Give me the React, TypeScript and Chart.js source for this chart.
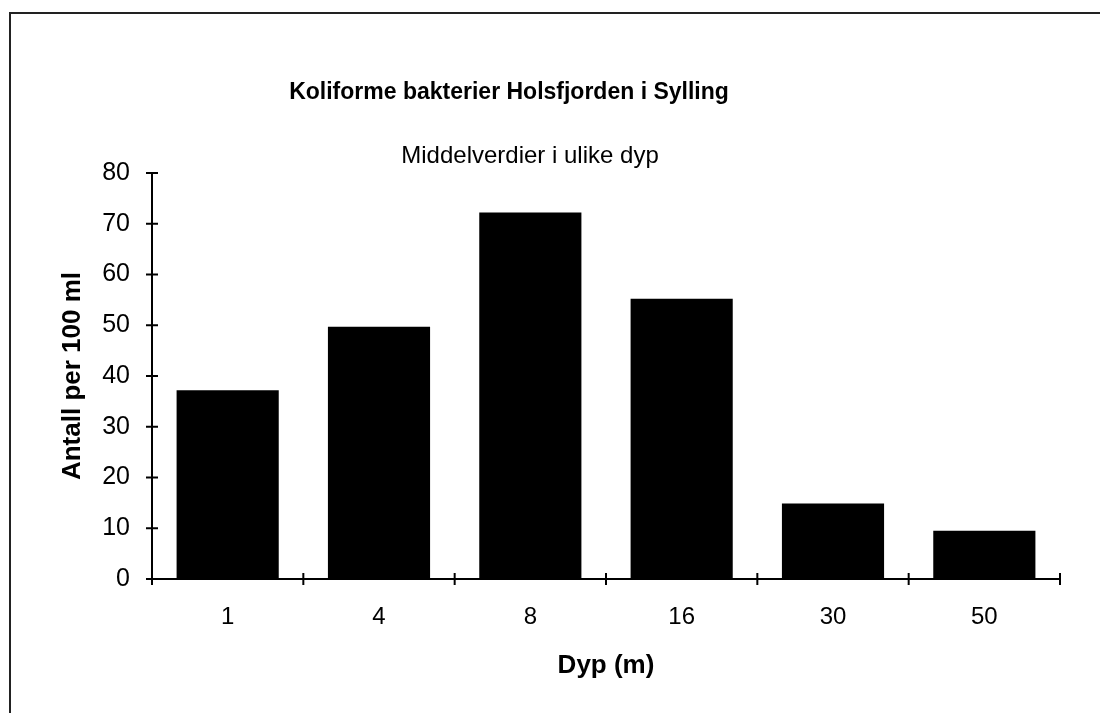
import React, { useEffect, useRef } from "react";
import { Chart, registerables } from "chart.js";

Chart.register(...registerables);

const depths: string[] = ["1", "4", "8", "16", "30", "50"];
const meanValues: number[] = [37.2, 49.7, 72.2, 55.2, 14.9, 9.5];
const yTickValues: number[] = [0, 10, 20, 30, 40, 50, 60, 70, 80];
const titleText = "Koliforme bakterier Holsfjorden i Sylling";
const subtitleText = "Middelverdier i ulike dyp";
const yAxisTitle = "Antall per 100 ml";
const xAxisTitle = "Dyp (m)";

const FONT = '"Liberation Sans", Arial, sans-serif';

const crossTicksPlugin = {
  id: "crossTicks",
  afterDraw(chart: any) {
    const { ctx, scales } = chart;
    const x = scales.x;
    const y = scales.y;
    const half = 6;
    ctx.save();
    ctx.strokeStyle = "#000";
    ctx.lineWidth = 2;
    // y ticks crossing the axis
    yTickValues.forEach((v) => {
      const py = y.getPixelForValue(v);
      ctx.beginPath();
      ctx.moveTo(x.left - half, py);
      ctx.lineTo(x.left + half, py);
      ctx.stroke();
    });
    // x ticks on category boundaries
    for (let i = 0; i <= depths.length; i++) {
      const px = x.getPixelForValue(i - 0.5);
      ctx.beginPath();
      ctx.moveTo(px, y.bottom - half);
      ctx.lineTo(px, y.bottom + half);
      ctx.stroke();
    }
    ctx.restore();
  },
};

const headingPlugin = {
  id: "heading",
  afterDraw(chart: any) {
    const { ctx } = chart;
    ctx.save();
    ctx.fillStyle = "#000";
    ctx.textAlign = "center";
    ctx.textBaseline = "alphabetic";
    ctx.font = `bold 23px ${FONT}`;
    ctx.fillText(titleText, 509, 99);
    ctx.font = `24px ${FONT}`;
    ctx.fillText(subtitleText, 530, 163);
    ctx.restore();
  },
};

export default function App() {
  const canvasRef = useRef<HTMLCanvasElement | null>(null);

  useEffect(() => {
    if (!canvasRef.current) return;
    const chart = new Chart(canvasRef.current, {
      type: "bar",
      data: {
        labels: depths,
        datasets: [
          {
            data: meanValues,
            backgroundColor: "#000",
            borderWidth: 0,
            categoryPercentage: 1,
            barPercentage: 0.675,
          },
        ],
      },
      options: {
        animation: false,
        responsive: false,
        maintainAspectRatio: false,
        layout: { padding: { top: 173, right: 40, bottom: 0, left: 0 } },
        plugins: {
          legend: { display: false },
          tooltip: { enabled: false },
          title: { display: false },
        },
        scales: {
          x: {
            type: "category",
            offset: true,
            grid: { display: false, drawTicks: false },
            border: { display: true, color: "#000", width: 2 },
            ticks: {
              color: "#000",
              padding: 24,
              font: { family: FONT, size: 24 },
              maxRotation: 0,
            },
            title: {
              display: true,
              text: xAxisTitle,
              color: "#000",
              font: { family: FONT, size: 26, weight: "bold" },
              padding: { top: 0, bottom: 32 },
            },
            afterFit(scale: any) {
              scale.height = 134;
            },
          },
          y: {
            min: 0,
            max: 80,
            grid: { display: false, drawTicks: false },
            border: { display: true, color: "#000", width: 2 },
            ticks: {
              stepSize: 10,
              color: "#000",
              padding: 22,
              font: { family: FONT, size: 25 },
            },
            title: {
              display: true,
              text: yAxisTitle,
              color: "#000",
              font: { family: FONT, size: 26, weight: "bold" },
              padding: { top: 57, bottom: 0 },
            },
            afterFit(scale: any) {
              scale.width = 152;
            },
          },
        },
      },
      plugins: [crossTicksPlugin, headingPlugin],
    });
    return () => chart.destroy();
  }, []);

  return (
    <div style={{ position: "fixed", left: 0, top: 0, width: 1100, height: 713, background: "#fff" }}>
      <div
        style={{
          position: "absolute",
          left: 9,
          top: 12,
          width: 1100,
          height: 713,
          borderLeft: "2px solid #222",
          borderTop: "2px solid #222",
          pointerEvents: "none",
        }}
      />
      <canvas ref={canvasRef} width={1100} height={713} style={{ position: "absolute", left: 0, top: 0 }} />
    </div>
  );
}
